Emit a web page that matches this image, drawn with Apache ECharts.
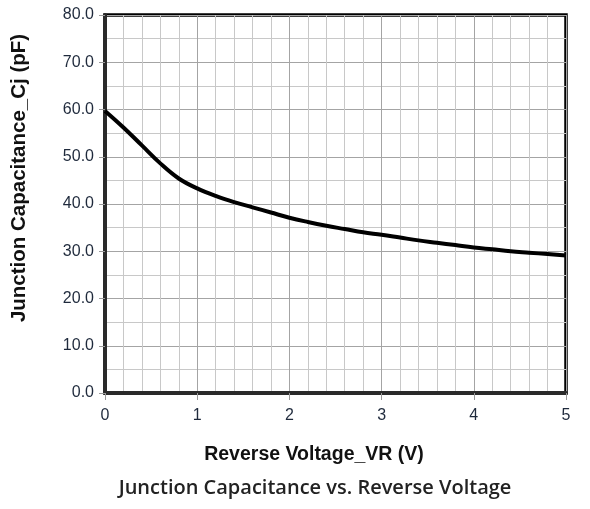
<!DOCTYPE html>
<html><head><meta charset="utf-8">
<script src="https://cdn.jsdelivr.net/npm/echarts@6/dist/echarts.min.js"></script>
<style>html,body{margin:0;padding:0;background:#fff}#c{width:590px;height:509px}</style>
</head><body><div id="c"></div>
<script>
const voltage = [0,0.2,0.4,0.6,0.8,1.0,1.2,1.4,1.6,1.8,2.0,2.2,2.4,2.6,2.8,3.0,3.2,3.4,3.6,3.8,4.0,4.2,4.4,4.6,4.8,5.0];
const capacitance = [59.7,56.2,52.4,48.6,45.4,43.3,41.7,40.4,39.3,38.2,37.1,36.2,35.4,34.7,34.0,33.5,32.9,32.3,31.8,31.3,30.8,30.4,30.0,29.7,29.4,29.1];
const xTicks = [0,1,2,3,4,5];
const yTicks = [0,10,20,30,40,50,60,70,80];
const chartTitle = 'Junction Capacitance vs. Reverse Voltage';
const xName = 'Reverse Voltage_VR (V)';
const yName = 'Junction Capacitance_Cj (pF)';

const chart = echarts.init(document.getElementById('c'));
chart.setOption({
  animation: false,
  grid: {left:105, top:15, right:24, bottom:116, show:true, borderColor:'#000', borderWidth:3.5, backgroundColor:'transparent'},
  xAxis: {
    type:'value', min:xTicks[0], max:xTicks[xTicks.length-1], interval:1,
    axisLine:{show:true, onZero:false, lineStyle:{color:'#2a2a2a', width:4}},
    axisTick:{show:true, length:7, lineStyle:{color:'#999'}},
    axisLabel:{fontFamily:'Liberation Sans', fontSize:16, color:'#1f2a3c', margin:15},
    splitLine:{show:true, lineStyle:{color:'#a4a4a4', width:1}},
    minorTick:{show:true, splitNumber:5, length:0},
    minorSplitLine:{show:true, lineStyle:{color:'#c8c8c8', width:1}}
  },
  yAxis: {
    type:'value', min:yTicks[0], max:yTicks[yTicks.length-1], interval:10,
    axisLine:{show:true, lineStyle:{color:'#2a2a2a', width:4}},
    axisTick:{show:true, length:6, lineStyle:{color:'#999'}},
    axisLabel:{fontFamily:'Liberation Sans', fontSize:16, color:'#1f2a3c', margin:11, formatter:v=>v.toFixed(1)},
    splitLine:{show:true, lineStyle:{color:'#a4a4a4', width:1}},
    minorTick:{show:true, splitNumber:2, length:0},
    minorSplitLine:{show:true, lineStyle:{color:'#c8c8c8', width:1}}
  },
  series: [{
    type:'line', smooth:0.4, showSymbol:false,
    data: voltage.map((v,i)=>[v,capacitance[i]]),
    lineStyle:{color:'#000', width:4}
  }],
  graphic: [
    {type:'text', x:19, y:178, rotation:Math.PI/2, style:{text:yName, font:'bold 20.5px "Liberation Sans"', fill:'#111', align:'center', verticalAlign:'middle'}},
    {type:'text', x:314, y:455, style:{text:xName, font:'bold 19.5px "Liberation Sans"', fill:'#111', align:'center', verticalAlign:'middle'}},
    {type:'text', x:315, y:488, style:{text:chartTitle, font:'600 20px "Open Sans"', fill:'#222', align:'center', verticalAlign:'middle'}}
  ]
});
</script></body></html>
